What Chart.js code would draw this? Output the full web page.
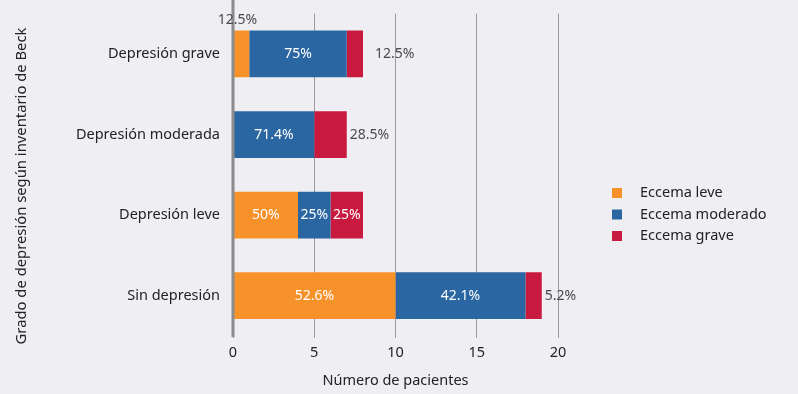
<!DOCTYPE html>
<html>
<head>
<meta charset="utf-8">
<script src="https://cdn.jsdelivr.net/npm/chart.js@4.4.1/dist/chart.umd.min.js"></script>
<style>
  html, body { margin: 0; padding: 0; background: #efeff3; }
  #wrap { width: 798px; height: 394px; }
</style>
</head>
<body>
<div id="wrap"><canvas id="chartBeck" width="798" height="394"></canvas></div>
<script>
const categorias = ['Depresión grave', 'Depresión moderada', 'Depresión leve', 'Sin depresión'];
const eccemaLeve = [1, 0, 4, 10];
const eccemaModerado = [6, 5, 2, 8];
const eccemaGrave = [1, 2, 2, 1];
const pctLeve = [12.5, null, 50, 52.6];
const pctModerado = [75, 71.4, 25, 42.1];
const pctGrave = [12.5, 28.5, 25, 5.2];
const xTicks = [0, 5, 10, 15, 20];
const tituloY = 'Grado de depresión según inventario de Beck';

const FONT = '"Noto Sans", "Open Sans", sans-serif';
const pcts = [pctLeve, pctModerado, pctGrave];

// etiquetas de porcentaje: dentro si cabe, si no a la derecha o encima
const etiquetasPlugin = {
  id: 'etiquetas',
  afterDatasetsDraw(chart) {
    const c = chart.ctx;
    c.save();
    c.font = '14px ' + FONT;
    c.textBaseline = 'middle';
    chart.data.datasets.forEach((ds, di) => {
      const meta = chart.getDatasetMeta(di);
      meta.data.forEach((bar, i) => {
        const p = pcts[di][i];
        if (p == null || !ds.data[i]) return;
        const txt = String(p) + '%';
        const left = Math.min(bar.x, bar.base);
        const w = Math.abs(bar.x - bar.base);
        const tw = c.measureText(txt).width;
        if (tw + 2 <= w) {
          c.fillStyle = '#ffffff';
          c.textAlign = 'center';
          c.fillText(txt, left + w / 2, bar.y);
        } else if (di === chart.data.datasets.length - 1) {
          c.fillStyle = '#4a4a4a';
          c.textAlign = 'left';
          c.fillText(txt, bar.x + (i === 0 ? 12 : 3), bar.y);
        } else {
          c.fillStyle = '#4a4a4a';
          c.textAlign = 'center';
          c.fillText(txt, left + w / 2 - 4, bar.y - bar.height / 2 - 11);
        }
      });
    });
    c.restore();
  }
};

// leyenda a la derecha y titulo del eje y, dibujados a mano
const leyendaPlugin = {
  id: 'leyenda',
  afterDraw(chart) {
    const c = chart.ctx;
    c.save();
    c.font = '14.5px ' + FONT;
    c.textBaseline = 'middle';
    c.textAlign = 'left';
    chart.data.datasets.forEach((ds, i) => {
      const y = 193 + i * 21.5;
      c.fillStyle = ds.backgroundColor;
      c.fillRect(612, y - 5, 10, 10);
      c.fillStyle = '#222';
      c.fillText(ds.label, 640, y);
    });
    c.font = '14.8px ' + FONT;
    c.translate(22, 186);
    c.rotate(-Math.PI / 2);
    c.textAlign = 'center';
    c.fillText(tituloY, 0, 0);
    c.restore();
  }
};

// eje del cero, mas grueso y hasta arriba
const ejeCeroPlugin = {
  id: 'ejeCero',
  afterDatasetsDraw(chart) {
    const c = chart.ctx;
    const x = chart.scales.x.getPixelForValue(0);
    c.save();
    c.strokeStyle = '#8c8c8c';
    c.lineWidth = 3;
    c.beginPath();
    c.moveTo(x, 0);
    c.lineTo(x, chart.chartArea.bottom + 1);
    c.stroke();
    c.restore();
  }
};

new Chart(document.getElementById('chartBeck').getContext('2d'), {
  type: 'bar',
  data: {
    labels: categorias,
    datasets: [
      { label: 'Eccema leve', data: eccemaLeve, backgroundColor: '#f7922a' },
      { label: 'Eccema moderado', data: eccemaModerado, backgroundColor: '#2a66a2' },
      { label: 'Eccema grave', data: eccemaGrave, backgroundColor: '#c8193f' }
    ]
  },
  options: {
    indexAxis: 'y',
    responsive: false,
    animation: false,
    layout: { padding: { top: 1, right: 240, left: 0, bottom: 0 } },
    datasets: { bar: { categoryPercentage: 1, barPercentage: 0.58 } },
    plugins: {
      legend: { display: false },
      tooltip: { enabled: false }
    },
    scales: {
      x: {
        stacked: true,
        min: 0,
        max: 20,
        afterBuildTicks: scale => { scale.ticks = xTicks.map(v => ({ value: v })); },
        afterFit: scale => { scale.height = 58; },
        grid: { color: '#9a9a9a', lineWidth: 1, drawTicks: true, tickLength: 2 },
        border: { display: false },
        ticks: { color: '#222', font: { family: FONT, size: 14.5 }, padding: 6 },
        title: {
          display: true,
          text: 'Número de pacientes',
          color: '#222',
          font: { family: FONT, size: 14.5 },
          padding: { top: 0, bottom: 4 }
        }
      },
      y: {
        stacked: true,
        afterFit: scale => { scale.width = 233; },
        grid: { display: false },
        border: { display: false },
        ticks: { color: '#222', font: { family: FONT, size: 14.5 }, padding: 5 }
      }
    }
  },
  plugins: [ejeCeroPlugin, etiquetasPlugin, leyendaPlugin]
});
</script>
</body>
</html>
